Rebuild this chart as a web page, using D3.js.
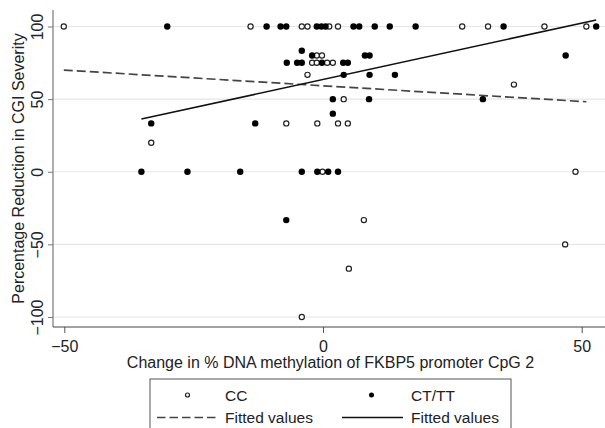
<!DOCTYPE html>
<html>
<head>
<meta charset="utf-8">
<script src="https://cdn.jsdelivr.net/npm/d3@7"></script>
<style>
  body { margin: 0; background: #fff; }
  svg { display: block; font-family: "Liberation Sans", Arial, sans-serif; }
</style>
</head>
<body>
<script>
// CC genotype (open circles)
const ccX = [-50.1, -14.0, -4.1, -3.0, 1.2, 2.9, 26.9, 31.9, 42.8, 50.9,
    -1.2, -0.2, -2.1, -1.2, 0.8, 1.9, -3.0, 36.9, 4.0,
    -7.1, -1.1, 2.9, 4.8, -33.2, -0.1, 48.8, 7.9, 46.8, 5.0, -4.1];
const ccY = [100, 100, 100, 100, 100, 100, 100, 100, 100, 100,
    80, 80, 75, 75, 75, 75, 66.7, 60, 50,
    33.3, 33.3, 33.3, 33.3, 20, 0, 0, -33.3, -50, -66.7, -100];

// CT/TT genotype (filled circles)
const ttX = [-30.1, -10.9, -8.2, -7.1, -1.2, -0.3, 0.5, 5.9, 7.0, 10.0, 12.9, 17.9, 34.9, 52.8,
    -4.1, -2.1, 8.1, 9.0, 46.9,
    -7.0, -5.0, -4.1, -0.2, 3.9, 4.8,
    4.0, 9.0, 13.9, 1.9, 8.9, 30.9, 1.9,
    -33.2, -13.1,
    -35.1, -26.2, -16.0, -4.1, -1.1, 1.0, 2.9, -7.1];
const ttY = [100, 100, 100, 100, 100, 100, 100, 100, 100, 100, 100, 100, 100, 100,
    83.3, 80, 80, 80, 80,
    75, 75, 75, 75, 75, 75,
    66.7, 66.7, 66.7, 50, 50, 50, 40,
    33.3, 33.3,
    0, 0, 0, 0, 0, 0, 0, -33.3];

// fitted lines, end points
const ccFitX = [-50.1, 50.9];
const ccFitY = [70.0, 48.2];
const ttFitX = [-35.1, 52.8];
const ttFitY = [36.3, 104.5];

const xTicks = [-50, 0, 50];
const yTicks = [-100, -50, 0, 50, 100];

const width = 605, height = 428;
const plotLeft = 53, plotRight = 605, plotTop = 10, plotBottom = 327;

const svg = d3.select("body").append("svg")
    .attr("width", width)
    .attr("height", height);

const x = d3.scaleLinear().domain([-50, 50]).range([64.3, 581.7]);
const y = d3.scaleLinear().domain([-100, 100]).range([317, 26.5]);

// gridlines
svg.selectAll(".grid")
    .data(yTicks)
    .enter()
    .append("line")
    .attr("x1", plotLeft).attr("x2", plotRight)
    .attr("y1", d => y(d)).attr("y2", d => y(d))
    .attr("stroke", "#e6e6e6")
    .attr("stroke-width", 1.2);

// axes
const xAxis = svg.append("g")
    .attr("transform", `translate(0,${plotBottom})`)
    .call(d3.axisBottom(x).tickValues(xTicks).tickSize(6).tickSizeOuter(0).tickFormat(d3.format("d")));
xAxis.select(".domain").remove();
xAxis.selectAll("line").attr("stroke", "#555");
xAxis.selectAll("text")
    .attr("y", 25).attr("dy", 0)
    .attr("fill", "#222")
    .style("font-size", "16px");

const yAxis = svg.append("g")
    .attr("transform", `translate(${plotLeft},0)`)
    .call(d3.axisLeft(y).tickValues(yTicks).tickSize(5).tickSizeOuter(0).tickFormat(d3.format("d")));
yAxis.select(".domain").remove();
yAxis.selectAll("line").attr("stroke", "#777");
yAxis.selectAll("text")
    .attr("transform", "rotate(-90)")
    .attr("x", 0).attr("y", -10).attr("dy", 0)
    .attr("text-anchor", "middle")
    .attr("fill", "#222")
    .style("font-size", "16px");

svg.append("line")
    .attr("x1", plotLeft).attr("x2", plotLeft)
    .attr("y1", plotTop).attr("y2", plotBottom)
    .attr("stroke", "#777").attr("stroke-width", 1.2);
svg.append("line")
    .attr("x1", plotLeft).attr("x2", plotRight)
    .attr("y1", plotBottom).attr("y2", plotBottom)
    .attr("stroke", "#444").attr("stroke-width", 1.2);

// axis titles
svg.append("text")
    .attr("x", 330.5).attr("y", 367.5)
    .attr("text-anchor", "middle")
    .attr("fill", "#222")
    .style("font-size", "16px")
    .text("Change in % DNA methylation of FKBP5 promoter CpG 2");

svg.append("text")
    .attr("transform", `translate(24,${(plotTop + plotBottom) / 2}) rotate(-90)`)
    .attr("text-anchor", "middle")
    .attr("fill", "#222")
    .style("font-size", "16px")
    .text("Percentage Reduction in CGI Severity");

// fitted lines
const line = d3.line().x(d => x(d[0])).y(d => y(d[1]));

svg.append("path")
    .attr("d", line(d3.zip(ccFitX, ccFitY)))
    .attr("fill", "none")
    .attr("stroke", "#444")
    .attr("stroke-width", 1.7)
    .attr("stroke-dasharray", "9,4");

svg.append("path")
    .attr("d", line(d3.zip(ttFitX, ttFitY)))
    .attr("fill", "none")
    .attr("stroke", "#111")
    .attr("stroke-width", 1.6);

// points
svg.selectAll(".cc")
    .data(d3.zip(ccX, ccY))
    .enter()
    .append("circle")
    .attr("class", "cc")
    .attr("cx", d => x(d[0]))
    .attr("cy", d => y(d[1]))
    .attr("r", 2.6)
    .attr("fill", "#fff")
    .attr("stroke", "#222")
    .attr("stroke-width", 1.2);

svg.selectAll(".tt")
    .data(d3.zip(ttX, ttY))
    .enter()
    .append("circle")
    .attr("class", "tt")
    .attr("cx", d => x(d[0]))
    .attr("cy", d => y(d[1]))
    .attr("r", 3.2)
    .attr("fill", "#000");

// legend
const legend = svg.append("g");
legend.append("rect")
    .attr("x", 150).attr("y", 379)
    .attr("width", 361).attr("height", 70)
    .attr("fill", "#fff")
    .attr("stroke", "#555")
    .attr("stroke-width", 1);

legend.append("circle")
    .attr("cx", 187.5).attr("cy", 395).attr("r", 2)
    .attr("fill", "#fff").attr("stroke", "#222").attr("stroke-width", 1.2);
legend.append("line")
    .attr("x1", 157).attr("x2", 217).attr("y1", 417.5).attr("y2", 417.5)
    .attr("stroke", "#444").attr("stroke-width", 1.4).attr("stroke-dasharray", "8.5,4");
legend.append("circle")
    .attr("cx", 371.5).attr("cy", 395).attr("r", 2.5)
    .attr("fill", "#000");
legend.append("line")
    .attr("x1", 342).attr("x2", 403).attr("y1", 417.5).attr("y2", 417.5)
    .attr("stroke", "#111").attr("stroke-width", 1.4);

const legendText = [["CC", 225, 400.5], ["Fitted values", 225, 423], ["CT/TT", 411, 400.5], ["Fitted values", 411, 423]];
legend.selectAll(".lt")
    .data(legendText)
    .enter()
    .append("text")
    .attr("x", d => d[1]).attr("y", d => d[2])
    .attr("fill", "#222")
    .style("font-size", "15.5px")
    .text(d => d[0]);
</script>
</body>
</html>
